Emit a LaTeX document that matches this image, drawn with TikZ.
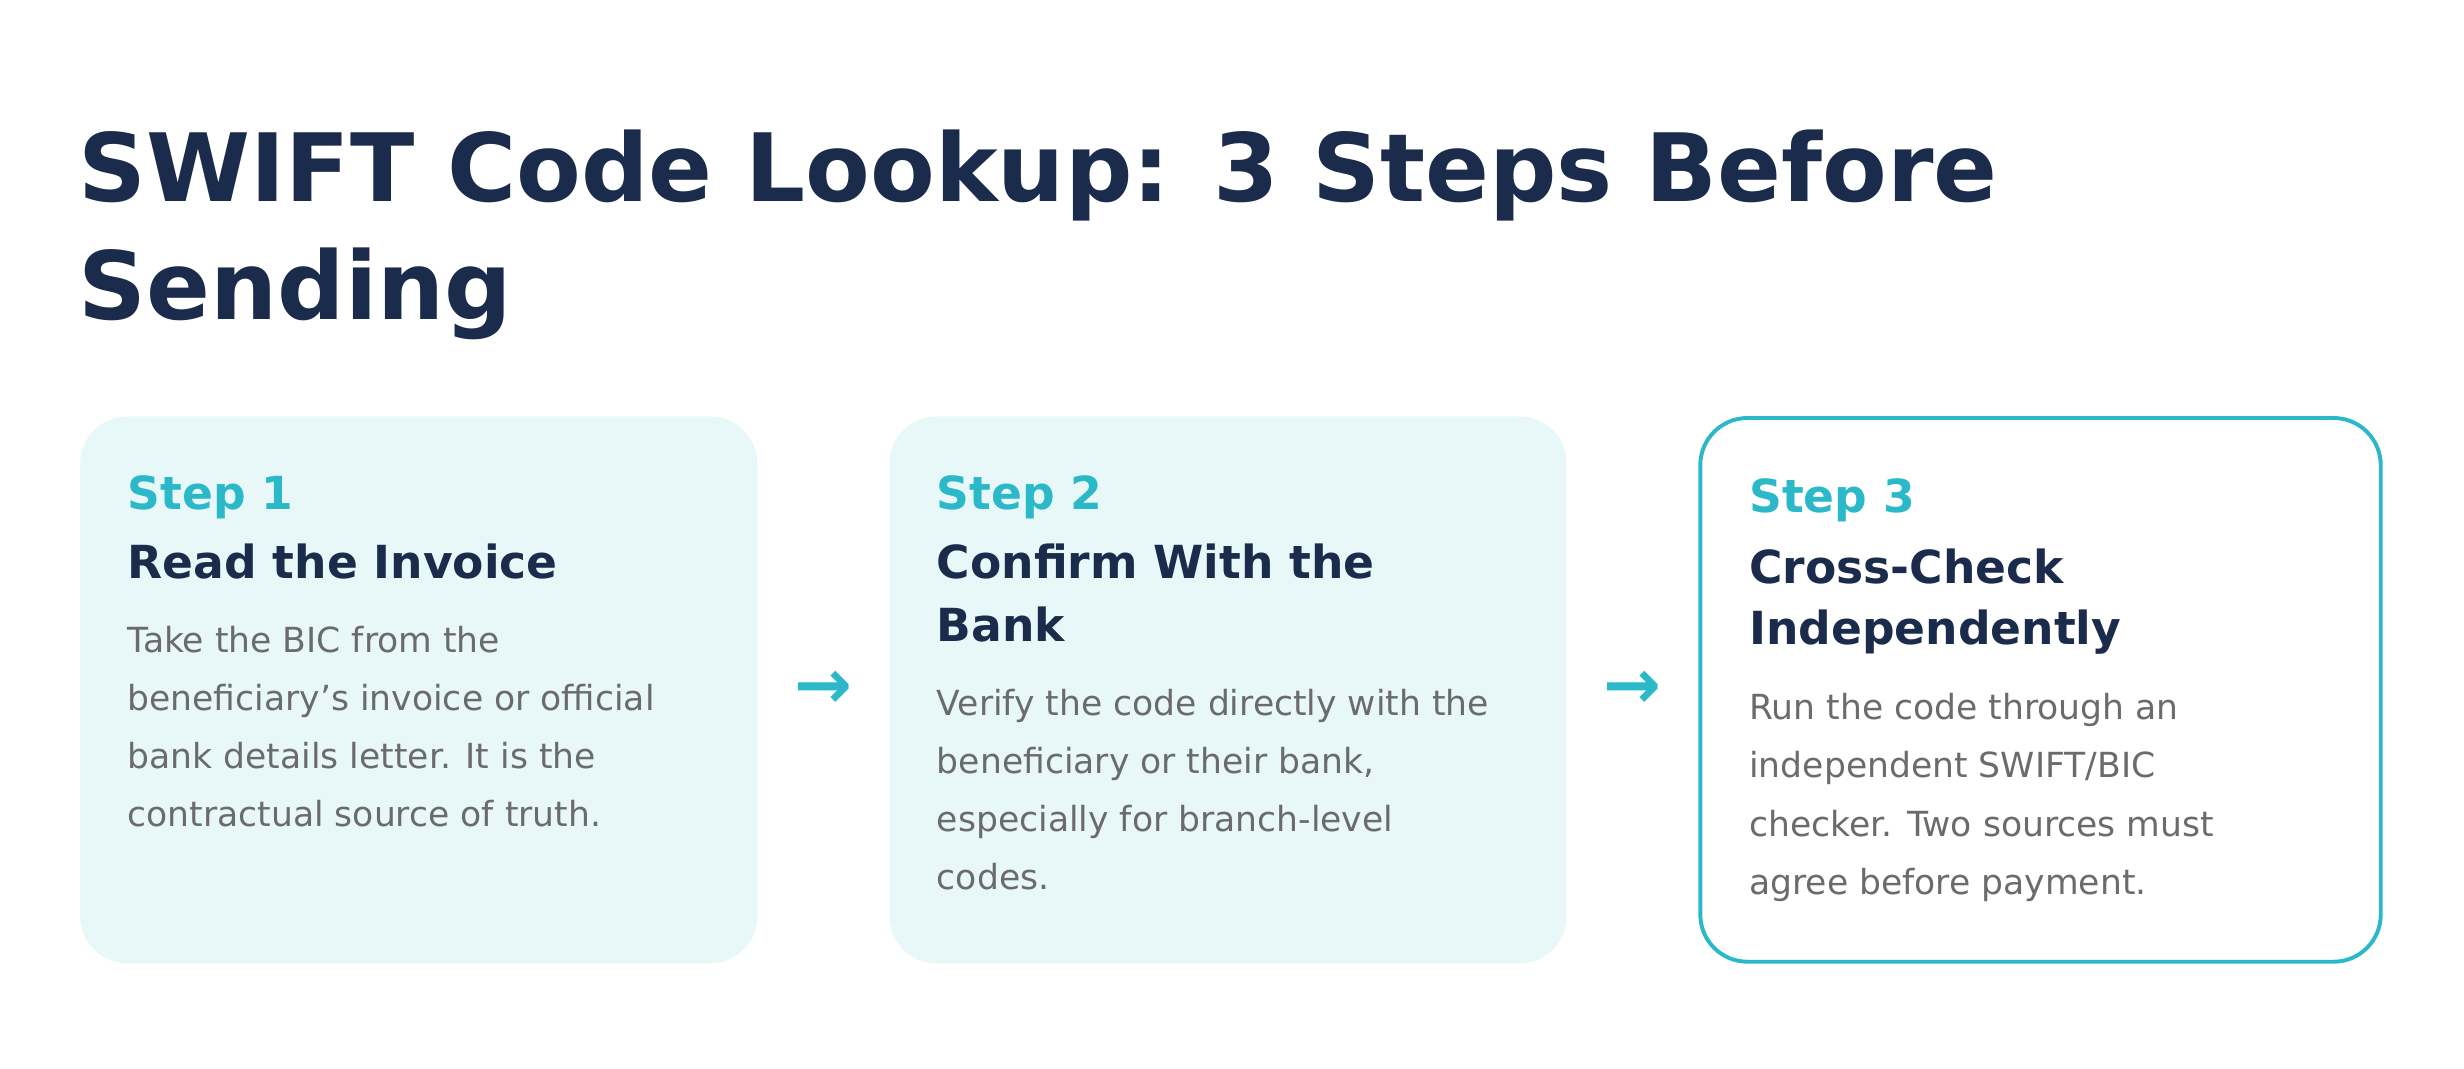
\documentclass[tikz,border=0pt]{standalone}
\usepackage{fontspec}
\setmainfont{DejaVu Sans}
\definecolor{navy}{HTML}{1B2B4B}
\definecolor{teal}{HTML}{2BB8C8}
\definecolor{pale}{HTML}{E8F8F8}
\definecolor{body}{HTML}{6B6B6B}
\begin{document}
\begin{tikzpicture}[x=1pt,y=-1pt,
  card/.style={rounded corners=30pt},
  t/.style={anchor=base west,inner sep=0pt},
  title/.style={t,font=\fontsize{60}{72}\selectfont\bfseries,text=navy},
  steplbl/.style={t,font=\fontsize{29}{34}\selectfont\bfseries,text=teal},
  head/.style={t,font=\fontsize{29}{34}\selectfont\bfseries,text=navy},
  txt/.style={t,font=\fontsize{22}{26}\selectfont,text=body},
  arr/.style={font=\fontsize{44}{50}\selectfont\bfseries,text=teal,inner sep=0pt}]
\useasboundingbox (0,0) rectangle (1568,680);
\node[title] (t1) at (50,128) {SWIFT Code Lookup: 3 Steps Before};
\node[title] (t2) at (50,203) {Sending};
\fill[pale,card] (51,265) rectangle (482,613);
\fill[pale,card] (566,265) rectangle (997,613);
\draw[teal,line width=2.5pt,card] (1082,266) rectangle (1515,612);
% card 1
\node[steplbl] (s1) at (81,324) {Step 1};
\node[head] (h1) at (81,368) {Read the Invoice};
\node[txt] (b11) at (81,415) {Take the BIC from the};
\node[txt] (b12) at (81,452) {beneficiary's invoice or official};
\node[txt] (b13) at (81,489) {bank details letter. It is the};
\node[txt] (b14) at (81,526) {contractual source of truth.};
% card 2
\node[steplbl] (s2) at (596,324) {Step 2};
\node[head] (h21) at (596,368) {Confirm With the};
\node[head] (h22) at (596,408) {Bank};
\node[txt] (b21) at (596,455) {Verify the code directly with the};
\node[txt] (b22) at (596,492) {beneficiary or their bank,};
\node[txt] (b23) at (596,529) {especially for branch-level};
\node[txt] (b24) at (596,566) {codes.};
% card 3
\node[steplbl] (s3) at (1113,326) {Step 3};
\node[head] (h31) at (1113,371) {Cross-Check};
\node[head] (h32) at (1113,410) {Independently};
\node[txt] (b31) at (1113,458) {Run the code through an};
\node[txt] (b32) at (1113,495) {independent SWIFT/BIC};
\node[txt] (b33) at (1113,532) {checker. Two sources must};
\node[txt] (b34) at (1113,569) {agree before payment.};
\node[arr] (a1) at (524,439) {→};
\node[arr] (a2) at (1039,439) {→};
\end{tikzpicture}
\end{document}
